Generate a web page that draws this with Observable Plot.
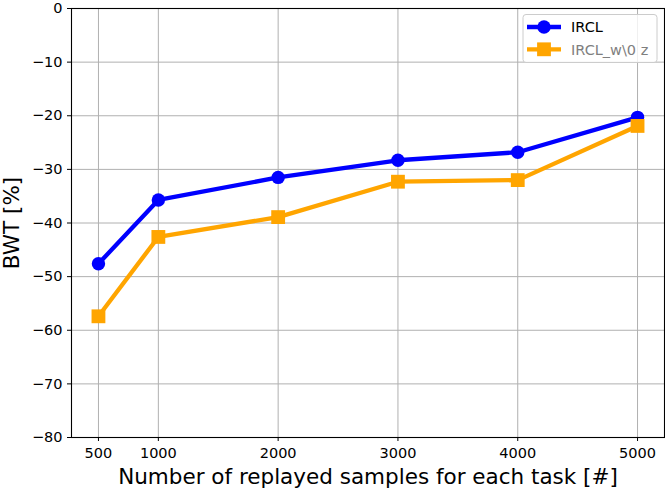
<!DOCTYPE html>
<html><head><meta charset="utf-8">
<script src="https://cdn.jsdelivr.net/npm/d3@7"></script>
<script src="https://cdn.jsdelivr.net/npm/@observablehq/plot@0.6"></script>
<style>
body{margin:0;background:#fff;}
#wrap{position:relative;width:665px;height:490px;}
#legend{position:absolute;left:0;top:0;}
</style>
</head><body><div id="wrap"></div>
<script>
const samples = [500, 1000, 2000, 3000, 4000, 5000];
const ircl = [-47.6, -35.7, -31.5, -28.3, -26.8, -20.3];
const irclWo = [-57.4, -42.6, -38.9, -32.3, -32.0, -21.9];
const seriesNames = ["IRCL", "IRCL_w\\0 z"];
const seriesColors = ["#0000ff", "#ffa500"];
const xTicks = [500, 1000, 2000, 3000, 4000, 5000];
const yTicks = [0, -10, -20, -30, -40, -50, -60, -70, -80];
const xLabel = "Number of replayed samples for each task [#]";
const yLabel = "BWT [%]";

const rows = (vals, name) => samples.map((s, i) => ({x: s, y: vals[i], series: name}));
const d1 = rows(ircl, seriesNames[0]);
const d2 = rows(irclWo, seriesNames[1]);
const fmtY = d => d === 0 ? "0" : (d < 0 ? "\u2212" + Math.abs(d) : String(d));

const chart = Plot.plot({
  width: 665, height: 490,
  marginLeft: 71, marginRight: 1, marginTop: 8, marginBottom: 53,
  style: {fontFamily: "DejaVu Sans", fontSize: "14.5px", color: "#000", background: "#fff"},
  x: {domain: [275, 5225]},
  y: {domain: [-80, 0]},
  marks: [
    Plot.gridX(xTicks, {stroke: "#b0b0b0", strokeOpacity: 1, strokeWidth: 1}),
    Plot.gridY(yTicks, {stroke: "#b0b0b0", strokeOpacity: 1, strokeWidth: 1}),
    Plot.axisX({ticks: xTicks, tickFormat: d => String(d), tickSize: 4, tickPadding: 6, label: null, stroke: "#000"}),
    Plot.axisY({ticks: yTicks, tickFormat: fmtY, tickSize: 4, tickPadding: 5, label: null, stroke: "#000"}),
    Plot.frame({stroke: "#000", strokeWidth: 1.1}),
    Plot.line(d1, {x: "x", y: "y", stroke: seriesColors[0], strokeWidth: 4.3}),
    Plot.dot(d1, {x: "x", y: "y", fill: seriesColors[0], r: 6.7, symbol: "circle"}),
    Plot.line(d2, {x: "x", y: "y", stroke: seriesColors[1], strokeWidth: 4.3}),
    Plot.dot(d2, {x: "x", y: "y", fill: seriesColors[1], r: 7.8, symbol: "square"}),
    Plot.text([xLabel], {frameAnchor: "bottom", lineAnchor: "middle", textAnchor: "middle", dy: 40, fontSize: 21.5, fill: "#000"}),
    Plot.text([yLabel], {frameAnchor: "left", lineAnchor: "middle", textAnchor: "middle", dx: -59.5, rotate: -90, fontSize: 21.5, fill: "#000"})
  ]
});
document.getElementById("wrap").appendChild(chart);

// legend
const lg = d3.select("#wrap").append("svg").attr("id", "legend")
  .attr("width", 665).attr("height", 490)
  .style("font-family", "DejaVu Sans").style("pointer-events", "none");
lg.append("rect").attr("x", 523).attr("y", 14.5).attr("width", 134).attr("height", 48)
  .attr("rx", 3).attr("fill", "#fff").attr("fill-opacity", 0.8).attr("stroke", "#cccccc");
seriesNames.forEach((name, i) => {
  const y = 27 + i * 22.3;
  lg.append("line").attr("x1", 527).attr("x2", 561).attr("y1", y).attr("y2", y)
    .attr("stroke", seriesColors[i]).attr("stroke-width", 4.3);
  if (i === 0) lg.append("circle").attr("cx", 544).attr("cy", y).attr("r", 6.7).attr("fill", seriesColors[i]);
  else lg.append("rect").attr("x", 544 - 6.9).attr("y", y - 6.9).attr("width", 13.8).attr("height", 13.8).attr("fill", seriesColors[i]);
  lg.append("text").attr("x", 571).attr("y", y).attr("dy", "0.36em").attr("font-size", 14.5)
    .attr("fill", i === 0 ? "#000" : "#7f7f7f").text(name);
});
</script>
</body></html>
